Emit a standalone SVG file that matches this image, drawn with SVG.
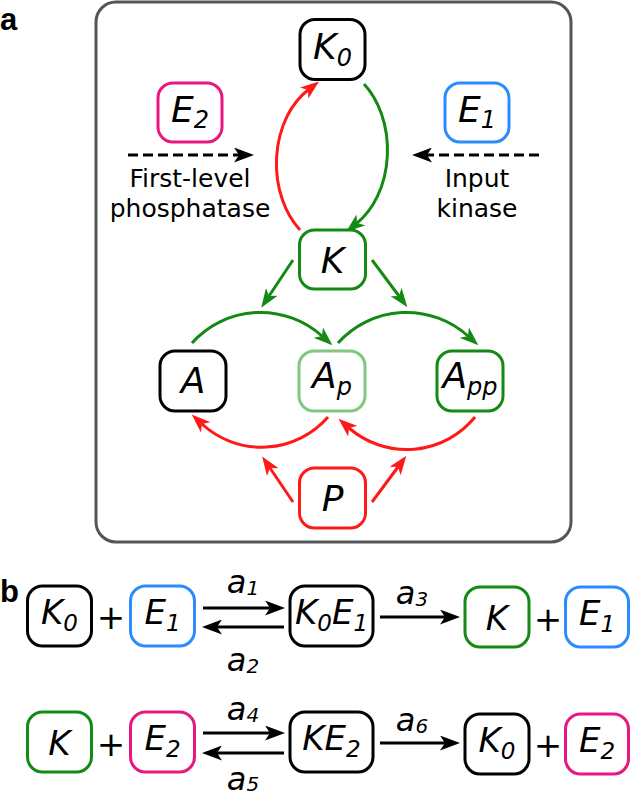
<svg xmlns="http://www.w3.org/2000/svg" width="632" height="799" viewBox="0 0 632 799">
<style>
.box{fill:#fff;stroke-width:3}
.k{stroke:#000}
.g{stroke:#148a14}
.lg{stroke:#80c880}
.r{stroke:#ff1a1a}
.pk{stroke:#e8197e}
.bl{stroke:#2a8cff}
.lab{font-family:"DejaVu Sans",Verdana,sans-serif;font-style:italic;font-size:36px;fill:#000;text-anchor:middle}
.labb{font-family:"DejaVu Sans",Verdana,sans-serif;font-style:italic;font-size:34px;fill:#000;text-anchor:middle}
.rate{font-family:"DejaVu Sans",Verdana,sans-serif;font-style:italic;font-size:32px;fill:#000;text-anchor:middle}
.plus{font-family:"DejaVu Sans",Verdana,sans-serif;font-size:34px;fill:#000;text-anchor:middle}
.note{font-family:"DejaVu Sans",Verdana,sans-serif;font-size:25px;fill:#000;text-anchor:middle}
.panel{font-family:"Liberation Sans",Arial,sans-serif;font-weight:bold;font-size:31px;fill:#000}
.c{fill:none;stroke-width:3}
.cg{stroke:#148a14;marker-end:url(#ag)}
.cr{stroke:#ff1a1a;marker-end:url(#ar)}
.ck{stroke:#000;marker-end:url(#ak)}
.dash{stroke-dasharray:10 5}
</style>
<defs>
<marker id="ag" markerUnits="userSpaceOnUse" viewBox="0 0 19 14" refX="5" refY="7" markerWidth="19" markerHeight="14" orient="auto"><path d="M0,0 L19,7 L0,14 L5,7 Z" fill="#148a14"/></marker>
<marker id="ar" markerUnits="userSpaceOnUse" viewBox="0 0 19 14" refX="5" refY="7" markerWidth="19" markerHeight="14" orient="auto"><path d="M0,0 L19,7 L0,14 L5,7 Z" fill="#ff1a1a"/></marker>
<marker id="ak" markerUnits="userSpaceOnUse" viewBox="0 0 20 15" refX="5" refY="7.5" markerWidth="20" markerHeight="15" orient="auto"><path d="M0,0 L20,7.5 L0,15 L5,7.5 Z" fill="#000"/></marker>
</defs>

<text class="panel" x="0" y="30">a</text>
<text class="panel" x="0" y="602">b</text>

<rect x="96" y="2" width="475" height="540" rx="20" fill="none" stroke="#555" stroke-width="3"/>

<g id="connectors">
<path class="c cr" d="M 300 230 A 63 85 0 0 1 308 90"/>
<path class="c cg" d="M 364 84 A 63 85 0 0 1 357 223"/>
<path class="c cg" d="M 293 260 L 269 296"/>
<path class="c cg" d="M 372 260 L 399 296"/>
<path class="c cg" d="M 192 343 A 92 92 0 0 1 322 336"/>
<path class="c cg" d="M 338 343 A 92 92 0 0 1 468 336"/>
<path class="c cr" d="M 328 417 A 88 88 0 0 1 202 424"/>
<path class="c cr" d="M 475 417 A 88 88 0 0 1 349 428"/>
<path class="c cr" d="M 293 502 L 270 468"/>
<path class="c cr" d="M 372 502 L 398 467"/>
<path class="c ck dash" d="M 128 155 L 239 155"/>
<path class="c ck dash" d="M 539 155 L 427 155"/>
<path class="c ck" d="M 203 608 L 270 608"/>
<path class="c ck" d="M 284 627 L 217 627"/>
<path class="c ck" d="M 380 617 L 445 617"/>
<path class="c ck" d="M 203 733 L 270 733"/>
<path class="c ck" d="M 284 753 L 217 753"/>
<path class="c ck" d="M 380 743 L 445 743"/>
</g>

<g id="K0"><rect class="box k" x="300" y="19.5" width="65" height="60" rx="15"/><text class="lab" x="332.5" y="59">K<tspan font-size="24" dy="7">0</tspan></text></g>
<g id="E2"><rect class="box pk" x="158" y="83" width="64" height="59" rx="15"/><text class="lab" x="190" y="122">E<tspan font-size="24" dy="6">2</tspan></text></g>
<g id="E1"><rect class="box bl" x="445" y="83" width="64" height="59" rx="15"/><text class="lab" x="477" y="122">E<tspan font-size="24" dy="6">1</tspan></text></g>
<g id="K"><rect class="box g" x="299.5" y="230" width="66" height="59" rx="15"/><text class="lab" x="332.5" y="272.5">K</text></g>
<g id="A"><rect class="box k" x="160" y="351" width="66" height="60" rx="15"/><text class="lab" x="193" y="393">A</text></g>
<g id="Ap"><rect class="box lg" x="299" y="351" width="66" height="60" rx="15"/><text class="lab" x="332" y="388">A<tspan font-size="24" dy="7">p</tspan></text></g>
<g id="App"><rect class="box g" x="437" y="351" width="66" height="60" rx="15"/><text class="lab" x="470" y="388">A<tspan font-size="24" dy="7">pp</tspan></text></g>
<g id="P"><rect class="box r" x="299.5" y="468" width="66" height="60" rx="15"/><text class="lab" x="332.5" y="511">P</text></g>

<g id="note-left"><text class="note" x="190" y="187">First-level</text><text class="note" x="190" y="217">phosphatase</text></g>
<g id="note-right"><text class="note" x="477" y="187">Input</text><text class="note" x="477" y="217">kinase</text></g>

<g id="b-K0"><rect class="box k" x="27.5" y="586" width="64" height="60" rx="15"/><text class="labb" x="59.5" y="624">K<tspan font-size="23" dy="7">0</tspan></text></g>
<text class="plus" x="111" y="629">+</text>
<g id="b-E1"><rect class="box bl" x="130.5" y="586" width="64" height="60" rx="15"/><text class="labb" x="162.5" y="624">E<tspan font-size="23" dy="7">1</tspan></text></g>
<g id="b-K0E1"><rect class="box k" x="290" y="586" width="83" height="60" rx="15"/><text class="labb" x="331.5" y="624">K<tspan font-size="23" dy="7">0</tspan><tspan dy="-7">E</tspan><tspan font-size="23" dy="7">1</tspan></text></g>
<g id="b-K"><rect class="box g" x="465" y="587" width="64" height="60" rx="15"/><text class="labb" x="497" y="629.5">K</text></g>
<text class="plus" x="548" y="631">+</text>
<g id="b-E1b"><rect class="box bl" x="565.5" y="587" width="63" height="60" rx="15"/><text class="labb" x="597" y="625">E<tspan font-size="23" dy="7">1</tspan></text></g>

<g id="b-K2"><rect class="box g" x="27.5" y="712" width="64" height="60" rx="15"/><text class="labb" x="59.5" y="754.5">K</text></g>
<text class="plus" x="111" y="756">+</text>
<g id="b-E2"><rect class="box pk" x="130.5" y="712" width="64" height="60" rx="15"/><text class="labb" x="162.5" y="750">E<tspan font-size="23" dy="7">2</tspan></text></g>
<g id="b-KE2"><rect class="box k" x="290" y="712" width="83" height="60" rx="15"/><text class="labb" x="331.5" y="750">KE<tspan font-size="23" dy="7">2</tspan></text></g>
<g id="b-K0b"><rect class="box k" x="465" y="714" width="64" height="60" rx="15"/><text class="labb" x="497" y="752">K<tspan font-size="23" dy="7">0</tspan></text></g>
<text class="plus" x="548" y="757">+</text>
<g id="b-E2b"><rect class="box pk" x="565.5" y="714" width="63" height="60" rx="15"/><text class="labb" x="597" y="752">E<tspan font-size="23" dy="7">2</tspan></text></g>

<g id="rates">
<text class="rate" x="243" y="593">a<tspan font-size="20" dy="2">1</tspan></text>
<text class="rate" x="243" y="671">a<tspan font-size="20" dy="2">2</tspan></text>
<text class="rate" x="412" y="604">a<tspan font-size="20" dy="2">3</tspan></text>
<text class="rate" x="243" y="720">a<tspan font-size="20" dy="2">4</tspan></text>
<text class="rate" x="243" y="790">a<tspan font-size="20" dy="1">5</tspan></text>
<text class="rate" x="412" y="731">a<tspan font-size="20" dy="2">6</tspan></text>
</g>
</svg>
